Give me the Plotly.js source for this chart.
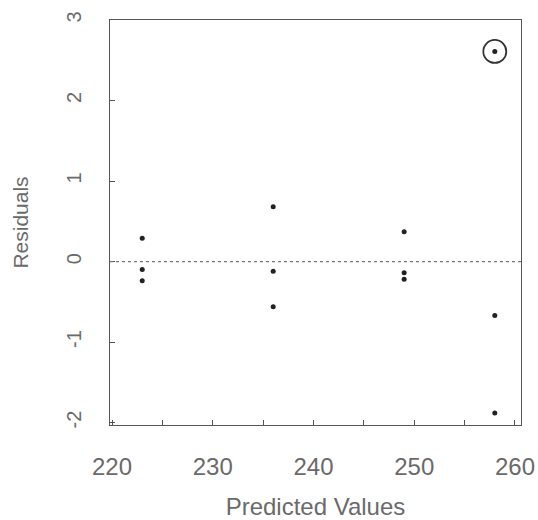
<!DOCTYPE html>
<html>
<head>
<meta charset="utf-8">
<script src="https://cdn.plot.ly/plotly-3.0.1.min.js"></script>
<style>html,body{margin:0;padding:0;background:#fff;}#plot{width:538px;height:520px;}</style>
</head>
<body>
<div id="plot"></div>
<script>
// Data
const predicted = [223, 223, 223, 236, 236, 236, 249, 249, 249, 258, 258, 258];
const residuals = [0.29, -0.10, -0.24, 0.68, -0.12, -0.56, 0.37, -0.14, -0.22, 2.61, -0.67, -1.88];
const xTickVals = [220, 230, 240, 250, 260];
const yTickVals = [-2, -1, 0, 1, 2, 3];

// outlier (largest residual) is circled
let outIdx = 0;
residuals.forEach((r, i) => { if (Math.abs(r) > Math.abs(residuals[outIdx])) outIdx = i; });

const txt = '#6a6a6a';
const axc = '#555';

const traces = [
  {
    x: predicted, y: residuals, type: 'scatter', mode: 'markers',
    marker: {color: '#222', size: 5}, hoverinfo: 'x+y', showlegend: false
  },
  {
    x: [predicted[outIdx]], y: [residuals[outIdx]], type: 'scatter', mode: 'markers',
    marker: {symbol: 'circle-open', color: '#333', size: 23, line: {width: 1.8, color: '#333'}},
    hoverinfo: 'skip', showlegend: false
  }
];

const layout = {
  width: 538, height: 520,
  margin: {l: 110, r: 17, t: 20, b: 95},
  paper_bgcolor: '#fff', plot_bgcolor: '#fff',
  font: {family: 'Liberation Sans, Arial, sans-serif', color: txt},
  showlegend: false,
  xaxis: {
    range: [219.8, 260.6], tickvals: xTickVals, ticks: 'inside', ticklen: 5, tickwidth: 1,
    tickcolor: axc, showline: true, linecolor: axc, linewidth: 1.3, mirror: true,
    showgrid: false, zeroline: false, ticklabelstandoff: 20,
    tickfont: {size: 24, color: txt},
    minor: {dtick: 5, tick0: 220, ticks: 'inside', ticklen: 5, tickcolor: axc, showgrid: false},
    title: {text: 'Predicted Values', font: {size: 24, color: txt}, standoff: 30}
  },
  yaxis: {
    range: [-2.03, 3.0], tickvals: yTickVals, ticktext: yTickVals.map(String),
    ticks: 'inside', ticklen: 5, tickwidth: 1, tickcolor: axc,
    showline: true, linecolor: axc, linewidth: 1.3, mirror: true,
    showgrid: false, zeroline: false, tickangle: -90, ticklabelstandoff: 20,
    tickfont: {size: 20, color: txt},
    title: {text: 'Residuals', font: {size: 21, color: txt}, standoff: 28}
  },
  shapes: [
    {type: 'line', xref: 'paper', x0: 0, x1: 1, yref: 'y', y0: 0, y1: 0,
     line: {color: '#777', width: 1.2, dash: 'dot'}}
  ]
};

Plotly.newPlot('plot', traces, layout, {displayModeBar: false, staticPlot: true});
</script>
</body>
</html>
